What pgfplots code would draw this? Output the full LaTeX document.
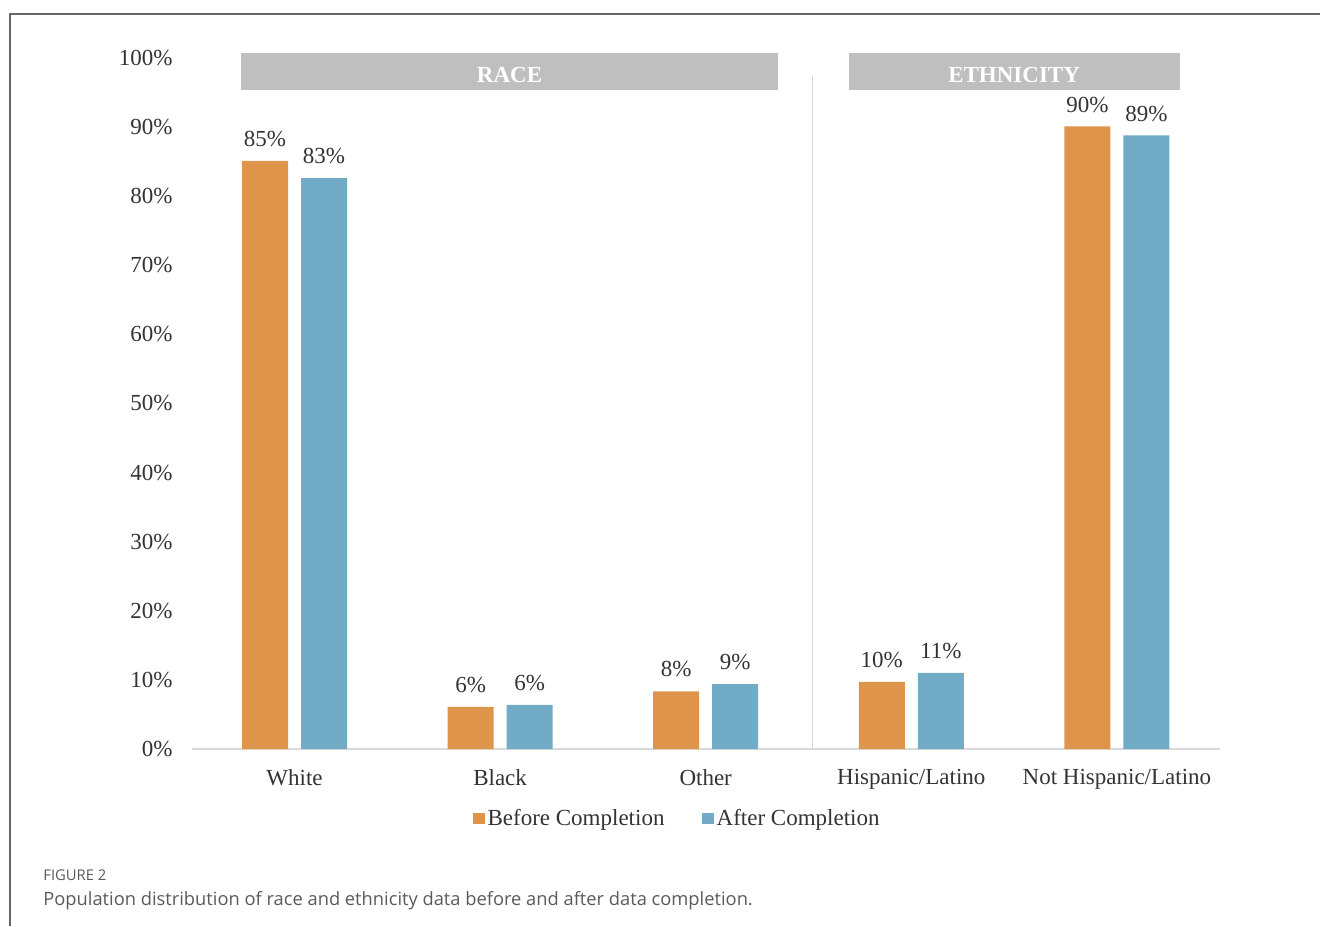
\documentclass[border=0pt]{standalone}
\usepackage{pgfplots}
\pgfplotsset{compat=1.18}
\usepackage{fontspec}
\setmainfont{Liberation Serif}
\newfontfamily\capfont{Open Sans}
\definecolor{cOrange}{HTML}{DE944A}
\definecolor{cBlue}{HTML}{71ABC6}
\definecolor{cHead}{HTML}{BFBFBF}
\definecolor{cText}{HTML}{333333}
\definecolor{cAxis}{HTML}{D9D9D9}
\definecolor{cCap}{HTML}{5A5A5A}
\begin{document}
\begin{tikzpicture}
\useasboundingbox (0,0) rectangle (660pt,463pt);
\draw[gray!80!black, line width=0.7pt] (5pt,0) -- (5pt,456pt) -- (660pt,456pt);
\begin{axis}[
  at={(95.85pt,88.5pt)}, anchor=south west,
  scale only axis, width=514pt, height=345.5pt,
  xmin=-0.5, xmax=4.5, ymin=0, ymax=100,
  clip=false,
  axis lines*=left,
  x axis line style={cAxis, line width=0.8pt},
  y axis line style={draw=none},
  major tick length=0pt,
  xtick={0,1,2,3,4},
  xticklabels={White,Black,Other,Hispanic/Latino,Not Hispanic/Latino},
  ytick={0,10,...,100},
  yticklabel={\pgfmathprintnumber{\tick}\%},
  /pgf/number format/assume math mode=true,
  tick label style={font=\fontsize{11.5}{13}\selectfont, text=cText},
  yticklabel style={xshift=-6pt},
  xticklabel style={yshift=-6.5pt},
  ybar=6.5pt, bar width=23pt,
  nodes near coords={\pgfmathprintnumber[fixed,precision=0]{\pgfplotspointmeta}\%},
  every node near coord/.append style={font=\fontsize{11.5}{13}\selectfont, text=cText, yshift=3.5pt},
  legend style={at={(0.473,-0.101)}, anchor=center, draw=none, fill=none,
    legend columns=2, font=\fontsize{11.5}{13}\selectfont, text=cText,
    /tikz/every even column/.append style={column sep=17.5pt},
    nodes={inner xsep=1.5pt}},
  legend image code/.code={\fill[#1] (0pt,-2.8pt) rectangle (5.6pt,2.8pt);},
]
\addplot[fill=cOrange, draw=none] coordinates {(0,85.1) (1,6.1) (2,8.35) (3,9.7) (4,90.1)};
\addlegendentry{Before Completion}
\addplot[fill=cBlue, draw=none] coordinates {(0,82.6) (1,6.4) (2,9.4) (3,11.0) (4,88.8)};
\addlegendentry{After Completion}
\draw[cAxis, line width=0.8pt] (axis cs:2.519,0) -- (axis cs:2.519,97.4);
\fill[cHead] (axis cs:-0.26,95.3) rectangle (axis cs:2.352,100.7);
\node[text=white, font=\fontsize{11.5}{13}\selectfont\bfseries] at (axis cs:1.046,97.55) {RACE};
\fill[cHead] (axis cs:2.695,95.3) rectangle (axis cs:4.305,100.7);
\node[text=white, font=\fontsize{11.5}{13}\selectfont\bfseries] at (axis cs:3.5,97.55) {ETHNICITY};
\end{axis}
\node[anchor=west, inner sep=0pt, text=cCap, font=\capfont\fontsize{7.4}{9}\selectfont] at (21.5pt,25.5pt) {FIGURE 2};
\node[anchor=west, inner sep=0pt, text=cCap, font=\capfont\fontsize{9.15}{10}\selectfont] at (21.5pt,12.5pt) {Population distribution of race and ethnicity data before and after data completion.};
\end{tikzpicture}
\end{document}
